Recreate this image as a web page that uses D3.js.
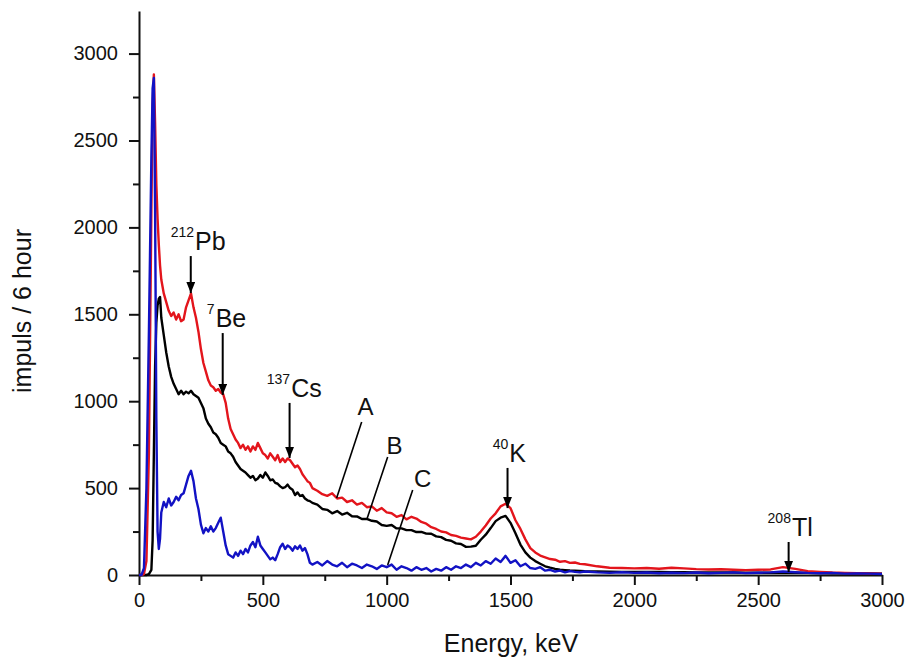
<!DOCTYPE html>
<html>
<head>
<meta charset="utf-8">
<script src="https://cdn.jsdelivr.net/npm/d3@7"></script>
<style>
body { margin: 0; background: #fff; }
svg text { font-family: "Liberation Sans", Arial, sans-serif; fill: #111; }
</style>
</head>
<body>
<div id="chart"></div>
<script>
// energy grid, keV (finer near the low-energy peak)
const energies = [
  0, 10, 20, 30, 40, 50, 55, 60, 65, 70, 75, 80, 85,
  90, 100, 110, 120, 130, 140, 150, 160, 170, 180, 190, 200, 210, 220, 230, 240, 250, 260, 270, 280, 290,
  300, 310, 320, 330, 340, 350, 360, 370, 380, 390, 400, 410, 420, 430, 440, 450, 460, 470, 480, 490,
  500, 510, 520, 530, 540, 550, 560, 570, 580, 590, 600, 610, 620, 630, 640, 650, 660, 670, 680, 690, 700,
  720, 740, 760, 780, 800, 820, 840, 860, 880, 900, 920, 940, 960, 980, 1000,
  1020, 1040, 1060, 1080, 1100, 1120, 1140, 1160, 1180, 1200, 1220, 1240, 1260, 1280, 1300, 1320, 1340, 1360, 1380, 1400,
  1420, 1440, 1460, 1480, 1500, 1520, 1540, 1560, 1580, 1600, 1620, 1640, 1660, 1680, 1700, 1720, 1740, 1760, 1780, 1800,
  1850, 1900, 1950, 2000, 2050, 2100, 2150, 2200, 2250, 2300, 2350, 2400, 2450, 2500, 2550, 2600, 2650, 2700, 2750, 2800, 2850, 2900, 2950, 3000
];

// spectrum A (red)
const seriesA = [
  0, 0, 5, 80, 700, 2100, 2700, 2880, 2600, 2250, 2050, 1900, 1780,
  1700, 1620, 1570, 1520, 1490, 1510, 1470, 1500, 1460, 1470, 1540, 1580, 1620, 1540, 1480, 1400, 1300, 1220, 1170, 1120, 1090,
  1080, 1060, 1070, 1050, 1040, 990, 900, 840, 810, 780, 760, 730, 750, 720, 740, 710, 740, 720, 760, 730,
  700, 690, 670, 700, 680, 660, 690, 650, 670, 650, 670, 660, 640, 620, 630, 610, 580, 560, 540, 530, 500,
  485, 465, 455, 470, 440, 445, 420, 430, 405, 415, 390, 395, 370, 385, 360,
  355, 335, 345, 320, 335, 325, 305, 295, 275, 265, 250, 245, 230, 225, 215, 210, 205, 220, 250, 285,
  325, 355, 395, 410, 385, 315, 265, 205, 155, 130, 112, 102, 92, 88, 76, 80, 70, 72, 64, 62,
  50, 42, 40, 38, 40, 36, 42, 38, 34, 32, 33, 30, 28, 30, 32, 45, 35, 22, 18, 14, 12, 10, 9, 8
];

// spectrum B (black)
const seriesB = [
  0, 0, 0, 0, 5, 30, 200, 700, 1200, 1450, 1550, 1590, 1600,
  1480, 1380, 1280, 1200, 1140, 1100, 1070, 1040, 1060, 1040, 1055, 1045, 1060, 1040, 1030, 1020, 990, 960, 900, 870, 850,
  820, 810, 790, 760, 750, 740, 710, 700, 680, 650, 630, 610, 600, 590, 575, 560, 570, 545, 555, 575,
  560, 590, 570, 545, 550, 530, 525, 510, 500, 505, 520, 500, 490, 460, 475, 455, 460, 440, 430, 425, 415,
  405, 380, 375, 355, 368, 348, 358, 338, 337, 322, 323, 312, 308, 288, 283,
  288, 268, 268, 258, 258, 247, 248, 238, 237, 222, 218, 202, 197, 182, 178, 162, 163, 168, 203, 232,
  270, 310, 330, 340, 300, 240, 175, 130, 100, 80, 65, 50, 42, 35, 30, 28, 26, 25, 24, 22,
  20, 19, 18, 18, 17, 17, 16, 16, 15, 15, 14, 14, 13, 13, 13, 14, 13, 12, 11, 10, 10, 9, 9, 8
];

// spectrum C (blue)
const seriesC = [
  0, 0, 40, 500, 1400, 2400, 2800, 2860, 2100, 900, 250, 150, 210,
  360, 420, 390, 440, 400, 420, 450, 430, 460, 470, 520, 570, 600, 540, 440, 380, 290, 240, 270, 250, 280,
  250, 270, 300, 330, 250, 170, 120, 110, 100, 130, 110, 140, 120, 150, 130, 170, 190, 160, 220, 170,
  150, 130, 110, 90, 100, 85, 120, 160, 180, 150, 170, 160, 140, 165, 150, 170, 140, 155, 120, 70, 60,
  75, 55, 80, 60, 50, 70, 45, 65, 55, 40, 60, 50, 35, 55, 45,
  60, 30, 50, 40, 25, 45, 30, 40, 20, 35, 25, 45, 30, 50, 40, 60, 45, 70, 55, 80,
  65, 95, 75, 110, 70, 85, 50, 65, 40, 35, 45, 25, 30, 20, 25, 15, 22, 18, 15, 20,
  15, 12, 16, 12, 14, 10, 13, 11, 14, 10, 12, 15, 11, 13, 15, 20, 16, 12, 10, 12, 8, 9, 8, 6
];

const xTicks = [0, 500, 1000, 1500, 2000, 2500, 3000];
const xMinor = [250, 750, 1250, 1750, 2250, 2750];
const yTicks = [0, 500, 1000, 1500, 2000, 2500, 3000];
const yMinor = [250, 750, 1250, 1750, 2250, 2750];

// isotope markers: arrow from tail to tip, label starts at labelE
const peaks = [
  { sup: "212", name: "Pb", energy: 209,  tip: 1622, tail: 1835, labelE: 128 },
  { sup: "7",   name: "Be", energy: 338,  tip: 1036, tail: 1392, labelE: 274 },
  { sup: "137", name: "Cs", energy: 608,  tip: 673,  tail: 990,  labelE: 516 },
  { sup: "40",  name: "K",  energy: 1488, tip: 385,  tail: 616,  labelE: 1428 },
  { sup: "208", name: "Tl", energy: 2623, tip: 17,   tail: 190,  labelE: 2538 }
];

// spectrum letters with leader lines
const curveLabels = [
  { name: "A", labelE: 915,  labelV: 921, fromE: 899,  fromV: 880, toE: 798,  toV: 443 },
  { name: "B", labelE: 1032, labelV: 696, fromE: 1004, fromV: 679, toE: 919,  toV: 316 },
  { name: "C", labelE: 1145, labelV: 506, fromE: 1105, fromV: 489, toE: 1004, toV: 58 }
];

const W = 909, H = 662;
const margin = { top: 11, right: 27, bottom: 87, left: 139 };

const svg = d3.select("#chart").append("svg")
  .attr("width", W)
  .attr("height", H);

const x = d3.scaleLinear().domain([0, 3000]).range([margin.left, W - margin.right]);
const y = d3.scaleLinear().domain([0, 3245]).range([H - margin.bottom, margin.top]);

// axes
svg.append("g")
  .attr("transform", `translate(0,${y(0)})`)
  .call(d3.axisBottom(x).tickValues(xTicks).tickSize(10).tickSizeOuter(0).tickPadding(8).tickFormat(d3.format("d")));
svg.append("g")
  .attr("transform", `translate(0,${y(0)})`)
  .call(d3.axisBottom(x).tickValues(xMinor).tickSize(6).tickFormat(""))
  .select(".domain").remove();

svg.append("g")
  .attr("transform", `translate(${x(0)},0)`)
  .call(d3.axisLeft(y).tickValues(yTicks).tickSize(10).tickSizeOuter(0).tickPadding(11).tickFormat(d3.format("d")));
svg.append("g")
  .attr("transform", `translate(${x(0)},0)`)
  .call(d3.axisLeft(y).tickValues(yMinor).tickSize(6).tickFormat(""))
  .select(".domain").remove();

svg.selectAll(".domain, .tick line").attr("stroke", "#111").attr("stroke-width", 2);
svg.selectAll(".tick text").attr("font-size", 20).attr("fill", "#222");

// axis titles
svg.append("text")
  .attr("x", 511).attr("y", 652)
  .attr("text-anchor", "middle")
  .attr("font-size", 25)
  .text("Energy, keV");

svg.append("text")
  .attr("transform", "translate(31,311) rotate(-90)")
  .attr("text-anchor", "middle")
  .attr("font-size", 25)
  .text("impuls / 6 hour");

// spectra
const line = d3.line()
  .x((d, i) => x(energies[i]))
  .y(d => y(d));

const spectra = [
  { values: seriesB, color: "#000000" },
  { values: seriesA, color: "#e3151c" },
  { values: seriesC, color: "#1212c4" }
];

spectra.forEach(s => {
  svg.append("path")
    .datum(s.values)
    .attr("fill", "none")
    .attr("stroke", s.color)
    .attr("stroke-width", 2.4)
    .attr("stroke-linejoin", "round")
    .attr("d", line);
});

// arrow heads
svg.append("defs").append("marker")
  .attr("id", "head")
  .attr("viewBox", "0 0 10 8")
  .attr("refX", 10).attr("refY", 4)
  .attr("markerWidth", 11).attr("markerHeight", 9)
  .attr("markerUnits", "userSpaceOnUse")
  .attr("orient", "auto")
  .append("path")
  .attr("d", "M0,0L10,4L0,8Z")
  .attr("fill", "#000");

peaks.forEach(p => {
  svg.append("line")
    .attr("x1", x(p.energy)).attr("y1", y(p.tail))
    .attr("x2", x(p.energy)).attr("y2", y(p.tip))
    .attr("stroke", "#000")
    .attr("stroke-width", 2)
    .attr("marker-end", "url(#head)");

  const t = svg.append("text")
    .attr("x", x(p.labelE))
    .attr("y", y(p.tail) - 6);
  t.append("tspan").attr("font-size", 14).attr("dy", -13).text(p.sup);
  t.append("tspan").attr("font-size", 25).attr("dy", 13).attr("dx", 1).text(p.name);
});

curveLabels.forEach(c => {
  svg.append("line")
    .attr("x1", x(c.fromE)).attr("y1", y(c.fromV))
    .attr("x2", x(c.toE)).attr("y2", y(c.toV))
    .attr("stroke", "#000")
    .attr("stroke-width", 1.6);
  svg.append("text")
    .attr("x", x(c.labelE))
    .attr("y", y(c.labelV))
    .attr("text-anchor", "middle")
    .attr("font-size", 24)
    .text(c.name);
});
</script>
</body>
</html>
